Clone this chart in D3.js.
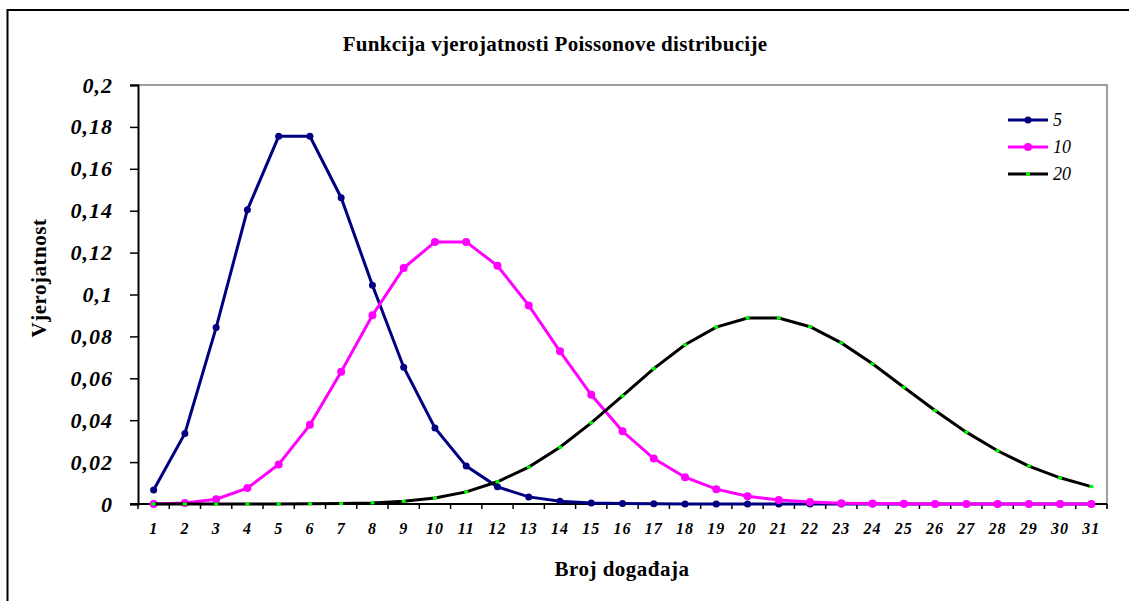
<html>
<script src='https://d3js.org/d3.v7.min.js'></script>
<style>
body {margin: 0; background: white;}
text {font-family: 'Liberation Serif', 'Times New Roman', serif;}
</style>
<body>
<svg width=1129 height=601></svg>
<script>

// broj događaja (kategorije na osi x)
var events = d3.range(1, 32);

// vjerojatnosti ocitane sa slike, po seriji (lambda)
var series5 = [0.0067, 0.0337, 0.0842, 0.1404, 0.1755, 0.1755, 0.1462, 0.1044, 0.0653, 0.0363,
  0.0181, 0.0082, 0.0034, 0.0013, 0.0005, 0.0002, 0.0001, 0, 0, 0,
  0, 0, 0, 0, 0, 0, 0, 0, 0, 0, 0];
var series10 = [0.0000, 0.0005, 0.0023, 0.0076, 0.0189, 0.0378, 0.0631, 0.0901, 0.1126, 0.1251,
  0.1251, 0.1137, 0.0948, 0.0729, 0.0521, 0.0347, 0.0217, 0.0128, 0.0071, 0.0037,
  0.0019, 0.0009, 0.0004, 0.0002, 0.0001, 0, 0, 0, 0, 0, 0];
var series20 = [0, 0, 0, 0, 0, 0.0001, 0.0002, 0.0005, 0.0013, 0.0029,
  0.0058, 0.0106, 0.0176, 0.0271, 0.0387, 0.0516, 0.0646, 0.0760, 0.0844, 0.0888,
  0.0888, 0.0846, 0.0769, 0.0669, 0.0557, 0.0446, 0.0343, 0.0254, 0.0181, 0.0125, 0.0083];

var seriesNames = ['5', '10', '20'];
var yTicks = [0, 0.02, 0.04, 0.06, 0.08, 0.1, 0.12, 0.14, 0.16, 0.18, 0.2];

var svg = d3.select('svg');
var pLeft = 138, pTop = 85, pRight = 1107, pBottom = 504;

// okvir grafikona
svg.append('rect')
  .attr('x', 7.5).attr('y', 10)
  .attr('width', 1140).attr('height', 620)
  .attr('fill', 'white').attr('stroke', 'black').attr('stroke-width', 2);

var x = d3.scaleBand().domain(events).range([pLeft, pRight]);
var y = d3.scaleLinear().domain([0, 0.2]).range([pBottom, pTop]);
var bw = x.bandwidth();

// gornji i desni rub podrucja crtanja
svg.append('path')
  .attr('d', 'M' + (pLeft - 8) + ',' + pTop + 'H' + pRight + 'V' + (pBottom + 4))
  .attr('fill', 'none').attr('stroke', '#808080').attr('stroke-width', 1.5);

// os y
var yAxis = svg.append('g')
  .attr('transform', 'translate(' + pLeft + ',0)')
  .call(d3.axisLeft(y).tickValues(yTicks).tickSize(8).tickPadding(17)
    .tickFormat(function(d) { return String(d).replace('.', ','); }));
yAxis.select('.domain').attr('stroke-width', 2);
yAxis.selectAll('line').attr('stroke-width', 1.5);
yAxis.selectAll('text')
  .style('font-family', 'Liberation Serif')
  .style('font-size', '22px').style('font-weight', 'bold').style('font-style', 'italic')
  .style('letter-spacing', '1px')
  .attr('fill', 'black');

// os x
var xAxis = svg.append('g')
  .attr('transform', 'translate(0,' + pBottom + ')')
  .call(d3.axisBottom(x).tickSize(0).tickPadding(19));
xAxis.select('.domain').remove();
xAxis.selectAll('text')
  .style('font-family', 'Liberation Serif')
  .style('font-size', '16px').style('font-weight', 'bold').style('font-style', 'italic')
  .style('letter-spacing', '1px')
  .attr('fill', 'black');
svg.append('line')
  .attr('x1', pLeft - 8).attr('x2', pRight)
  .attr('y1', pBottom).attr('y2', pBottom)
  .attr('stroke', 'black').attr('stroke-width', 2);
svg.append('g').selectAll('line')
  .data(events.concat([32]))
  .enter().append('line')
  .attr('x1', function(d) { return pLeft + (d - 1) * bw; })
  .attr('x2', function(d) { return pLeft + (d - 1) * bw; })
  .attr('y1', pBottom).attr('y2', pBottom + 5)
  .attr('stroke', 'black').attr('stroke-width', 1.5);

var cx = function(d, i) { return x(events[i]) + bw / 2; };
var line = d3.line().x(cx).y(function(d) { return y(d); });

// lambda = 5
svg.append('path').datum(series5)
  .attr('d', line).attr('fill', 'none')
  .attr('stroke', '#000080').attr('stroke-width', 3);
svg.append('g').selectAll('circle').data(series5).enter().append('circle')
  .attr('cx', cx).attr('cy', function(d) { return y(d); })
  .attr('r', 3.5).attr('fill', '#000080');

// lambda = 10
svg.append('path').datum(series10)
  .attr('d', line).attr('fill', 'none')
  .attr('stroke', '#ff00ff').attr('stroke-width', 3);
svg.append('g').selectAll('circle').data(series10).enter().append('circle')
  .attr('cx', cx).attr('cy', function(d) { return y(d); })
  .attr('r', 4).attr('fill', '#ff00ff');

// lambda = 20
svg.append('path').datum(series20)
  .attr('d', line).attr('fill', 'none')
  .attr('stroke', 'black').attr('stroke-width', 3);
svg.append('g').selectAll('rect').data(series20).enter().append('rect')
  .attr('x', function(d, i) { return cx(d, i) - 2; })
  .attr('y', function(d) { return y(d) - 1.5; })
  .attr('width', 4).attr('height', 3).attr('fill', '#00ff00');

// legenda
var legColors = ['#000080', '#ff00ff', 'black'];
var leg = svg.append('g').selectAll('g').data(seriesNames).enter().append('g')
  .attr('transform', function(d, i) { return 'translate(1008,' + (120 + i * 27) + ')'; });
leg.append('line')
  .attr('x1', 0).attr('x2', 40)
  .attr('stroke', function(d, i) { return legColors[i]; }).attr('stroke-width', 3);
leg.append('circle')
  .attr('cx', 20).attr('r', function(d, i) { return i == 2 ? 0 : (i == 0 ? 3.5 : 4); })
  .attr('fill', function(d, i) { return legColors[i]; });
leg.filter(function(d, i) { return i == 2; }).append('rect')
  .attr('x', 18).attr('y', -1.5).attr('width', 4).attr('height', 3).attr('fill', '#00ff00');
leg.append('text')
  .attr('x', 45).attr('y', 6)
  .style('font-size', '18px').style('font-style', 'italic')
  .text(function(d) { return d; });

// naslovi
svg.append('text')
  .attr('x', 555).attr('y', 51).attr('text-anchor', 'middle')
  .style('font-size', '21px').style('font-weight', 'bold').style('letter-spacing', '0.3px')
  .text('Funkcija vjerojatnosti Poissonove distribucije');

svg.append('text')
  .attr('x', 622).attr('y', 576).attr('text-anchor', 'middle')
  .style('font-size', '21px').style('font-weight', 'bold').style('letter-spacing', '0.5px')
  .text('Broj događaja');

svg.append('text')
  .attr('transform', 'translate(46,278) rotate(-90)').attr('text-anchor', 'middle')
  .style('font-size', '21px').style('font-weight', 'bold').style('letter-spacing', '0.5px')
  .text('Vjerojatnost');

</script>
</body>
</html>
